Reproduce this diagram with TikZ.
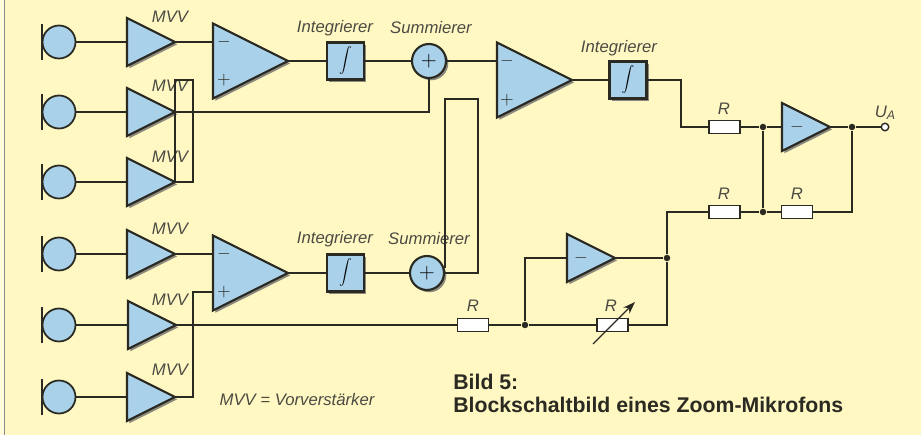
\documentclass[tikz,border=0pt]{standalone}
\usepackage{fontspec}
\usepackage{graphicx}
\setmainfont{Liberation Sans}
\usetikzlibrary{shapes.geometric,shadows,arrows.meta}
\definecolor{paper}{HTML}{FFF8C3}
\definecolor{blockblue}{HTML}{A9D1E9}
\definecolor{inkdark}{HTML}{2B2A22}
\newcommand{\intsign}{\scalebox{0.72}{$\displaystyle\int$}}
\tikzset{
  wire/.style={draw=inkdark,line width=0.75pt},
  shade/.style={drop shadow={shadow xshift=1.3pt,shadow yshift=-1.3pt,fill=black!60,opacity=0.75}},
  mic/.style={circle,draw=inkdark,line width=1pt,fill=blockblue,minimum size=0.66cm,inner sep=0pt},
  preamp/.style={isosceles triangle,isosceles triangle stretches,anchor=apex,draw=inkdark,line width=1.2pt,fill=blockblue,shade,minimum width=0.96cm,minimum height=0.96cm,inner sep=0pt,outer sep=0pt},
  opamp/.style={preamp,minimum width=1.5cm,minimum height=1.5cm},
  intbox/.style={rectangle,draw=inkdark,line width=1.2pt,fill=blockblue,shade,minimum size=0.74cm,inner sep=0pt},
  summer/.style={circle,draw=inkdark,line width=1.2pt,fill=blockblue,shade,minimum size=0.68cm,inner sep=0pt,font=\large},
  res/.style={rectangle,draw=inkdark,line width=1pt,fill=white,minimum width=0.62cm,minimum height=0.26cm,inner sep=0pt},
  dot/.style={circle,fill=inkdark,minimum size=0.13cm,inner sep=0pt},
  term/.style={circle,draw=inkdark,line width=0.8pt,fill=white,minimum size=0.15cm,inner sep=0pt},
  sign/.style={text=inkdark,inner sep=0pt,font=\normalsize},
  lbl/.style={text=inkdark!85,inner sep=0pt,font=\fontsize{9.5}{11}\selectfont\itshape},
  caption/.style={text=inkdark,inner sep=0pt,anchor=west,font=\fontsize{12.1}{14}\selectfont\bfseries}
}
\begin{document}
\begin{tikzpicture}[x=0.02cm,y=-0.02cm]
  \useasboundingbox (0,0) rectangle (921,435);
  \fill[paper!60!white] (0,0) rectangle (4,435);
  \fill[paper] (4,0) rectangle (921,435);
  \draw[black!45,line width=0.7pt] (4.5,0) -- (4.5,435);

  \node[mic] (mic1) at (59,42) {};
  \node[mic] (mic2) at (59,112) {};
  \node[mic] (mic3) at (59,182) {};
  \node[mic] (mic4) at (59,254) {};
  \node[mic] (mic5) at (59,325) {};
  \node[mic] (mic6) at (59,397) {};
  \coordinate (bar1a) at (42,24); \coordinate (bar1b) at (42,60);
  \coordinate (bar2a) at (42,94); \coordinate (bar2b) at (42,130);
  \coordinate (bar3a) at (42,164); \coordinate (bar3b) at (42,200);
  \coordinate (bar4a) at (42,236); \coordinate (bar4b) at (42,272);
  \coordinate (bar5a) at (42,307); \coordinate (bar5b) at (42,343);
  \coordinate (bar6a) at (42,379); \coordinate (bar6b) at (42,415);
  \draw[wire] (bar1a) -- (bar1b);
  \draw[wire] (bar2a) -- (bar2b);
  \draw[wire] (bar3a) -- (bar3b);
  \draw[wire] (bar4a) -- (bar4b);
  \draw[wire] (bar5a) -- (bar5b);
  \draw[wire] (bar6a) -- (bar6b);

  \node[preamp] (pre1) at (175,42) {};
  \node[preamp] (pre2) at (175,112) {};
  \node[preamp] (pre3) at (175,182) {};
  \node[preamp] (pre4) at (175,254) {};
  \node[preamp] (pre5) at (176,325) {};
  \node[preamp] (pre6) at (175,397) {};
  \draw[wire] (mic1) -- (pre1.west);
  \draw[wire] (mic2) -- (pre2.west);
  \draw[wire] (mic3) -- (pre3.west);
  \draw[wire] (mic4) -- (pre4.west);
  \draw[wire] (mic5) -- (pre5.west);
  \draw[wire] (mic6) -- (pre6.west);
  \node[lbl] (mvv1) at (170,17) {MVV};
  \node[lbl] (mvv2) at (170,86) {MVV};
  \node[lbl] (mvv3) at (170,157) {MVV};
  \node[lbl] (mvv4) at (170,229) {MVV};
  \node[lbl] (mvv5) at (170,300) {MVV};
  \node[lbl] (mvv6) at (170,370) {MVV};

  \node[opamp] (op1) at (288,61) {};
  \node[sign] (op1m) at (224,42) {$-$};
  \node[sign] (op1p) at (224,80) {$+$};
  \coordinate (op1a) at (213,42);
  \node[opamp] (op2) at (288,273) {};
  \node[sign] (op2m) at (224,254) {$-$};
  \node[sign] (op2p) at (224,292) {$+$};
  \coordinate (op2a) at (213,254);
  \coordinate (op2b) at (213,292);
  \node[opamp] (op3) at (572,80) {};
  \node[sign] (op3m) at (507,61) {$-$};
  \node[sign] (op3p) at (507,100) {$+$};
  \coordinate (op3a) at (497,61);

  \node[intbox] (int1) at (345.5,61) {\intsign};
  \node[intbox] (int2) at (345.5,273) {\intsign};
  \node[intbox] (int3) at (628,80) {\intsign};
  \node[lbl] (int1l) at (335,28) {Integrierer};
  \node[lbl] (int2l) at (335,239) {Integrierer};
  \node[lbl] (int3l) at (619,48) {Integrierer};

  \node[summer] (sum1) at (429,61) {$+$};
  \node[summer] (sum2) at (427,273) {$+$};
  \node[lbl] (sum1l) at (431,28) {Summierer};
  \node[lbl] (sum2l) at (429,239) {Summierer};

  \draw[wire] (pre1.apex) -- (op1a);
  \draw[wire] (op1.apex) -- (int1);
  \draw[wire] (int1) -- (sum1);
  \draw[wire] (sum1) -- (op3a);
  \draw[wire] (op3.apex) -- (int3);
  \draw[wire] (pre2.apex) -| (sum1.south);
  \coordinate (loop1a) at (193,80);
  \coordinate (loop1b) at (175,80);
  \draw[wire] (pre3.apex) -| (loop1a) -- (loop1b) -- (pre3.apex);

  \draw[wire] (pre4.apex) -- (op2a);
  \coordinate (feed2) at (193,292);
  \draw[wire] (pre6.apex) -| (feed2) -- (op2b);
  \draw[wire] (op2.apex) -- (int2);
  \draw[wire] (int2) -- (sum2);
  \coordinate (loop2a) at (478,273);
  \coordinate (loop2b) at (478,99);
  \coordinate (loop2c) at (445,99);
  \coordinate (loop2d) at (445,268);
  \draw[wire] (sum2.east) -- (loop2a) -- (loop2b) -- (loop2c) -- (loop2d);

  \node[res] (r1) at (473,325) {};
  \node[lbl] (r1l) at (473,306) {R};
  \node[res] (r2) at (612.5,325) {};
  \node[lbl] (r2l) at (611,306) {R};
  \node[res] (r3) at (724.5,127) {};
  \node[lbl] (r3l) at (724,109) {R};
  \node[res] (r4) at (724.5,212) {};
  \node[lbl] (r4l) at (724,194) {R};
  \node[res] (r5) at (797,212) {};
  \node[lbl] (r5l) at (797,194) {R};

  \node[opamp,minimum width=0.96cm,minimum height=0.96cm] (op4) at (615,258) {};
  \node[sign] (op4m) at (581,258) {$-$};
  \coordinate (op4a) at (567,258);
  \node[opamp,minimum width=0.96cm,minimum height=0.96cm] (op5) at (830,127) {};
  \node[sign] (op5m) at (797,127) {$-$};
  \coordinate (op5a) at (783,127);

  \node[dot] (j1) at (525,325) {};
  \node[dot] (j2) at (667,258) {};
  \node[dot] (j3) at (763,127) {};
  \node[dot] (j4) at (763,212) {};
  \node[dot] (j5) at (852,127) {};
  \node[term] (out) at (885,127) {};
  \node[lbl] (outl) at (885,113) {U\raisebox{-0.25ex}{\scriptsize A}};

  \draw[wire] (pre5.apex) -- (r1);
  \draw[wire] (r1) -- (j1);
  \draw[wire] (j1) -- (r2);
  \draw[wire] (r2) -| (j2);
  \draw[wire] (j1) |- (op4a);
  \draw[wire] (op4.apex) -- (j2);
  \draw[wire] (j2) |- (r4);
  \draw[wire] (r4) -- (j4);
  \draw[wire] (j4) -- (r5);
  \draw[wire] (r5) -| (j5);
  \draw[wire] (j4) -- (j3);
  \draw[wire] (r3) -- (j3);
  \draw[wire] (j3) -- (op5a);
  \draw[wire] (op5.apex) -- (j5);
  \draw[wire] (j5) -- (out);
  \coordinate (bend3) at (681,80);
  \draw[wire] (int3) -- (bend3) |- (r3);

  \coordinate (arrowa) at (593,344);
  \coordinate (arrowb) at (635,302);
  \draw[wire,-{Stealth[length=7pt,width=5pt]}] (arrowa) -- (arrowb);

  \node[lbl] (note) at (297,400) {MVV = Vorverstärker};
  \node[caption] (cap1) at (453,382) {Bild 5:};
  \node[caption] (cap2) at (453,405) {Blockschaltbild eines Zoom-Mikrofons};
\end{tikzpicture}
\end{document}
